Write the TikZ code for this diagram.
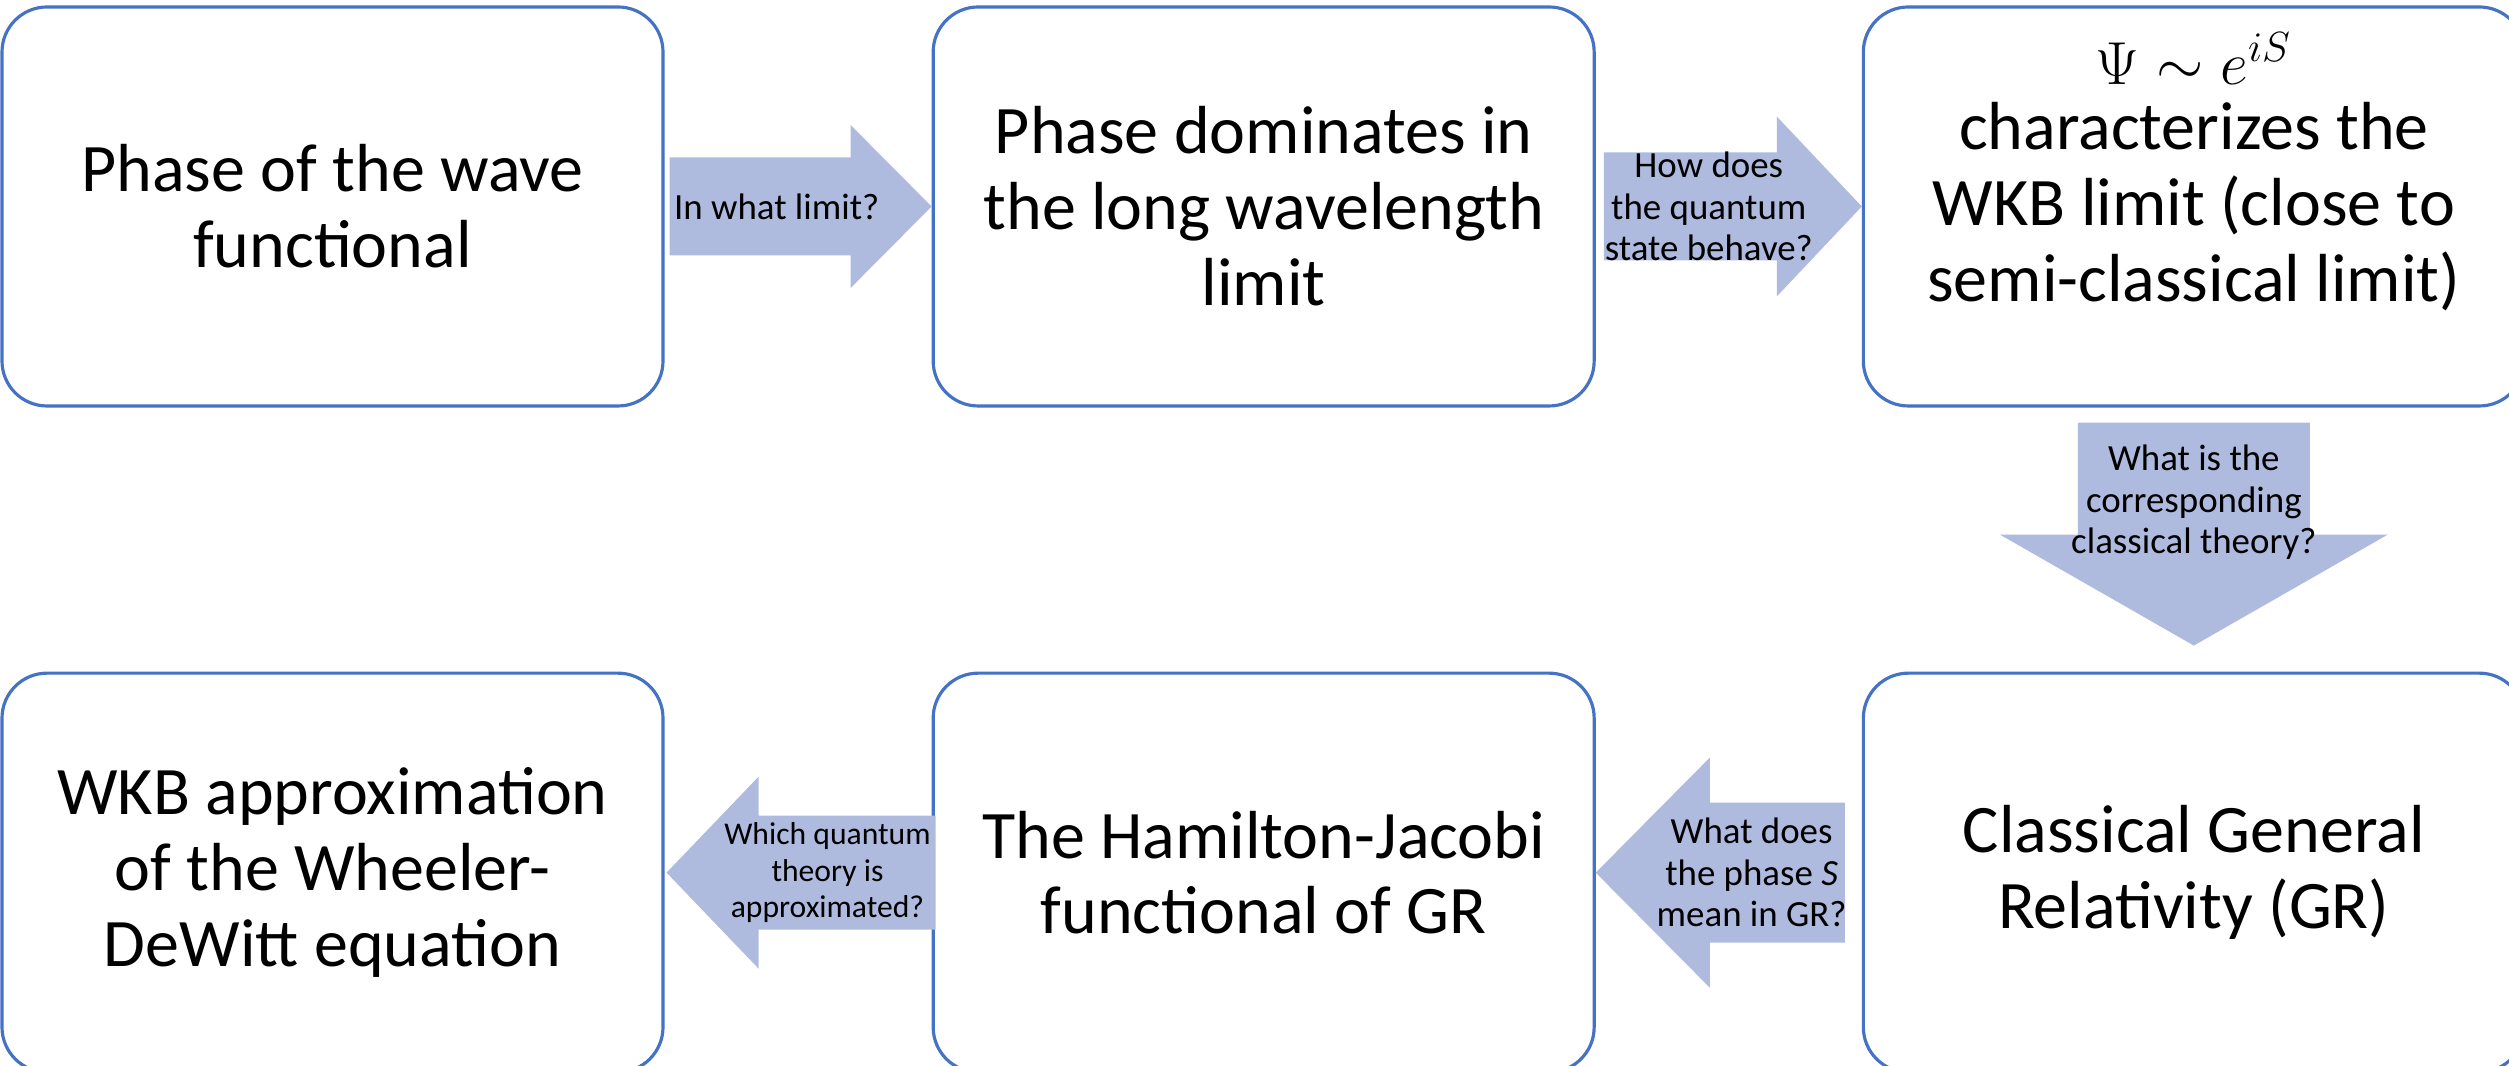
\documentclass[tikz,border=0pt]{standalone}
\usepackage{fontspec}
\setmainfont{Carlito}
\usepackage{tikz}
\usetikzlibrary{calc,positioning}
\definecolor{boxBlue}{HTML}{4472C4}
\definecolor{flowBlue}{HTML}{AEBBDF}
\newcommand{\bigfont}{\fontsize{19.35pt}{21.6pt}\selectfont}
\newcommand{\askfont}{\fontsize{10.5pt}{11.8pt}\selectfont}

\begin{document}
\begin{tikzpicture}[
  node distance=2.67cm,
  stage/.style={draw=boxBlue, line width=0.9pt, rounded corners=0.45cm,
    minimum width=6.61cm, minimum height=3.99cm, align=center, font=\bigfont},
  ask/.style={align=center, font=\askfont, inner sep=0pt},
  % fat block arrow: shaft half-width, head half-width, head length
  fat/.style n args={3}{to path={
    let \p1=(\tikztostart), \p2=(\tikztotarget), \p3=($(\p2)!#3!(\p1)$) in
    ($(\p1)!#1!90:(\p2)$) -- ($(\p3)!#1!90:(\p2)$) -- ($(\p3)!#2!90:(\p2)$) -- (\p2)
    -- ($(\p3)!#2!-90:(\p2)$) -- ($(\p3)!#1!-90:(\p2)$) -- ($(\p1)!#1!-90:(\p2)$) -- cycle}}
]
  \useasboundingbox (0,0) rectangle (25.09,10.66);

  % top row
  \node[stage] (b1) at (3.325,8.595) {Phase of the wave\\functional};
  \node[stage, right=of b1] (b2) {Phase dominates in\\the long wavelength\\limit};
  \node[stage, right=2.66cm of b2, text depth=0.78cm] (b3)
    {{\fontsize{17pt}{20pt}\selectfont$\Psi\sim e^{iS}$}\\[-0.1cm]characterizes the\\WKB limit (close to\\semi-classical limit)};
  % bottom row
  \node[stage, below=2.64cm of b3] (b6) {Classical General\\Relativity (GR)};
  \node[stage, left=2.66cm of b6] (b5) {The Hamilton-Jacobi\\functional of GR};
  \node[stage, left=of b5] (b4) {WKB approximation\\of the Wheeler-\\DeWitt equation};

  % block arrows
  \fill[flowBlue] ([xshift=0.05cm]b1.east) to[fat={0.49cm}{0.815cm}{0.81cm}] (b2.west);
  \fill[flowBlue] ([xshift=0.08cm]b2.east) to[fat={0.54cm}{0.9cm}{0.85cm}] (b3.west);
  \fill[flowBlue] ([yshift=-0.15cm]b3.south) to[fat={1.16cm}{1.94cm}{1.11cm}] ([yshift=0.26cm]b6.north);
  \fill[flowBlue] ([xshift=-0.17cm]b6.west) to[fat={0.7cm}{1.15cm}{1.14cm}] (b5.east);
  \fill[flowBlue] ([xshift=0.04cm]b5.west) to[fat={0.57cm}{0.96cm}{0.92cm}] ([xshift=0.02cm]b4.east);

  % questions on the arrows
  \node[ask] (q1) at ($(b1.east)!0.42!(b2.west)$) {In what limit?};
  \node[ask] (q2) at ($(b2.east)!0.425!(b3.west)$) {How does\\the quantum\\state behave?};
  \node[ask] (q3) at ($(b3.south)!0.36!(b6.north)$) {What is the\\corresponding\\classical theory?};
  \node[ask] (q4) at ($(b6.west)!0.414!(b5.east)$) {What does\\the phase \textit{S}\\mean in GR?};
  \node[ask, font=\fontsize{9pt}{10.3pt}\selectfont] (q5) at ($(b5.west)!0.39!(b4.east)$)
    {Which quantum\\theory is\\approximated?};
\end{tikzpicture}
\end{document}
